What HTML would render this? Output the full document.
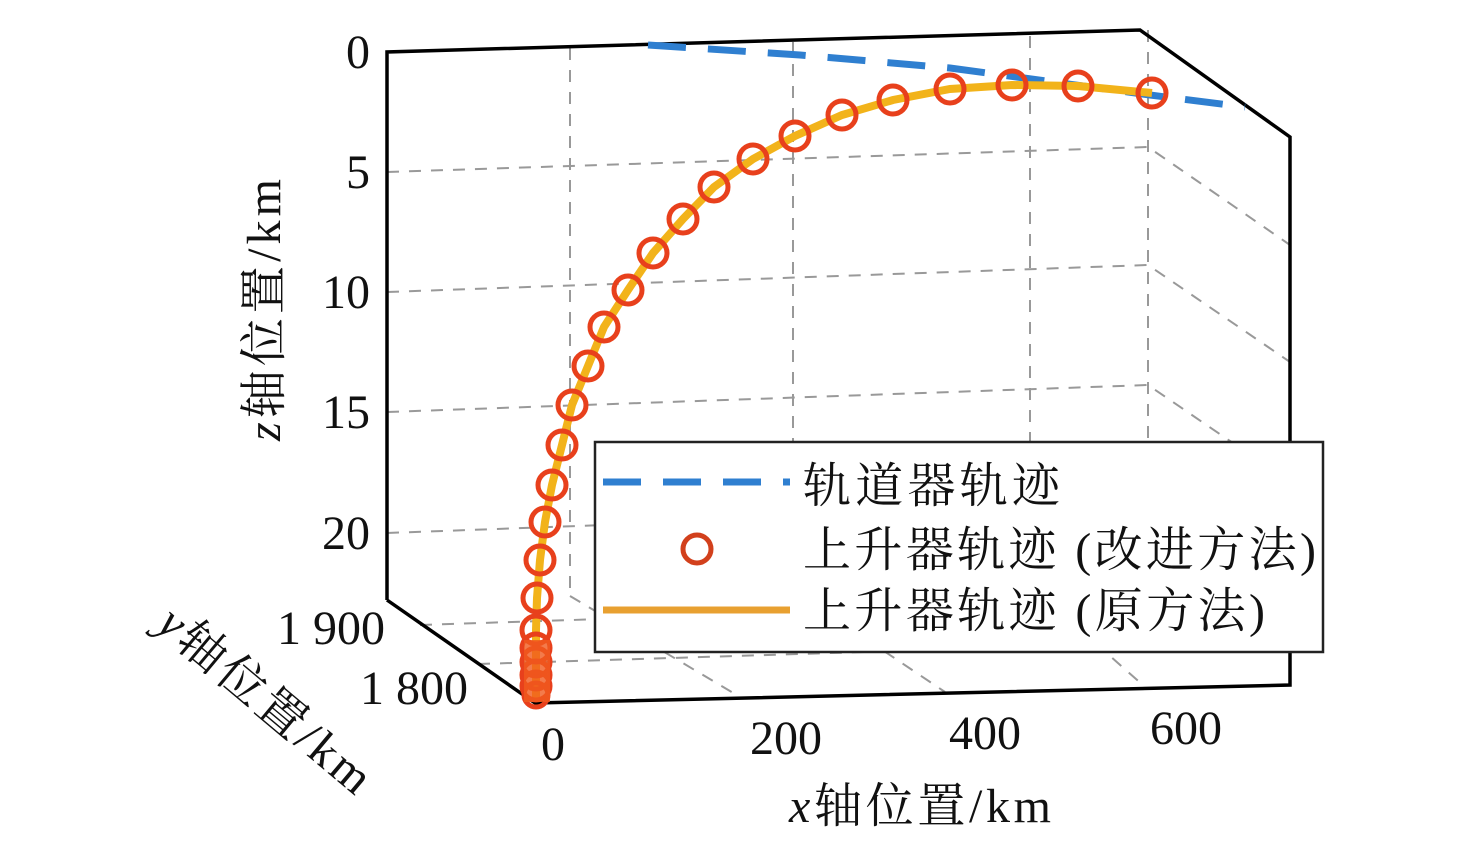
<!DOCTYPE html>
<html><head><meta charset="utf-8"><style>
body{margin:0;background:#fff}
svg text{font-family:"Liberation Serif","Noto Serif CJK SC",serif;font-size:48px;fill:#111}
</style></head><body>
<svg width="1476" height="838" viewBox="0 0 1476 838" xmlns="http://www.w3.org/2000/svg">
<g stroke="#999" stroke-width="2" stroke-dasharray="12,10" fill="none">
<line x1="570" y1="48" x2="570" y2="596"/>
<line x1="793" y1="42" x2="793" y2="590"/>
<line x1="1030" y1="36" x2="1030" y2="585"/>
<line x1="1148" y1="30" x2="1148" y2="580"/>
<polyline points="387,172 1148,147 1290,245"/>
<polyline points="387,292 1148,265 1290,362"/>
<polyline points="387,412 1148,385 1290,482"/>
<polyline points="387,533 1148,505 1290,602"/>
<line x1="420" y1="625" x2="1180" y2="600"/>
<line x1="478" y1="664" x2="1250" y2="640"/>
<line x1="570" y1="596" x2="740" y2="697"/>
<line x1="793" y1="590" x2="945" y2="692"/>
<line x1="1030" y1="585" x2="1145" y2="687"/>
</g>
<g stroke="#000" stroke-width="3.5" fill="none">
<polyline points="387,600 387,52 1140,30 1290,137 1290,685 535,703 387,600"/>
</g>
<polyline points="648,45 800,55 950,68 1150,95 1245,107" fill="none" stroke="#2f7fd0" stroke-width="7" stroke-dasharray="38,22"/>
<polyline points="1152,93 1078,86 1012,85 950,89 893,100 842,115 795,136 753,159 714,187 683,219 653,253 628,290 604,327 588,366 572,405 562,445 552,485 545,522 540,560 537,598 536,630 536,700" fill="none" stroke="#f2b31a" stroke-width="8"/>
<g fill="none" stroke="#e8401c" stroke-width="5">
<circle cx="1152" cy="93" r="14"/><circle cx="1078" cy="86" r="14"/><circle cx="1012" cy="85" r="14"/><circle cx="950" cy="89" r="14"/><circle cx="893" cy="100" r="14"/><circle cx="842" cy="115" r="14"/><circle cx="795" cy="136" r="14"/><circle cx="753" cy="159" r="14"/><circle cx="714" cy="187" r="14"/><circle cx="683" cy="219" r="14"/><circle cx="653" cy="253" r="14"/><circle cx="628" cy="290" r="14"/><circle cx="604" cy="327" r="14"/><circle cx="588" cy="366" r="14"/><circle cx="572" cy="405" r="14"/><circle cx="562" cy="445" r="14"/><circle cx="552" cy="485" r="14"/><circle cx="545" cy="522" r="14"/><circle cx="540" cy="560" r="14"/><circle cx="537" cy="598" r="14"/><circle cx="536" cy="630" r="14"/><circle cx="536" cy="648" r="14"/><circle cx="536" cy="662" r="14"/><circle cx="536" cy="675" r="14"/><circle cx="536" cy="686" r="14"/><circle cx="536" cy="695" r="12"/>
</g>
<rect x="524" y="640" width="26" height="62" fill="#f05a1e" opacity="0.8"/>
<rect x="595" y="442" width="728" height="210" fill="#fff" stroke="#222" stroke-width="2.5"/>
<line x1="603" y1="482" x2="790" y2="482" stroke="#2f7fd0" stroke-width="7" stroke-dasharray="38,22"/>
<circle cx="697" cy="549" r="14" fill="none" stroke="#d2401c" stroke-width="5"/>
<line x1="603" y1="610" x2="790" y2="610" stroke="#e8a030" stroke-width="7"/>
<text x="803" y="502" textLength="257" font-size="50">轨道器轨迹</text>
<text x="803" y="566" textLength="513" font-size="50">上升器轨迹 (改进方法)</text>
<text x="803" y="627" textLength="462" font-size="50">上升器轨迹 (原方法)</text>
<g text-anchor="end">
<text x="370" y="68">0</text><text x="370" y="188">5</text><text x="370" y="308">10</text><text x="370" y="428">15</text><text x="370" y="549">20</text>
<text x="385" y="644">1 900</text><text x="468" y="704">1 800</text>
</g>
<g text-anchor="middle">
<text x="553" y="760">0</text><text x="786" y="754">200</text><text x="985" y="749">400</text><text x="1186" y="744">600</text>
<text x="920" y="822" textLength="262"><tspan font-style="italic">x</tspan>轴位置/km</text>
</g>
<text transform="translate(280,310) rotate(-90)" text-anchor="middle" textLength="262"><tspan font-style="italic">z</tspan>轴位置/km</text>
<text transform="translate(255,712) rotate(40)" text-anchor="middle" textLength="262"><tspan font-style="italic">y</tspan>轴位置/km</text>
</svg>
</body></html>
